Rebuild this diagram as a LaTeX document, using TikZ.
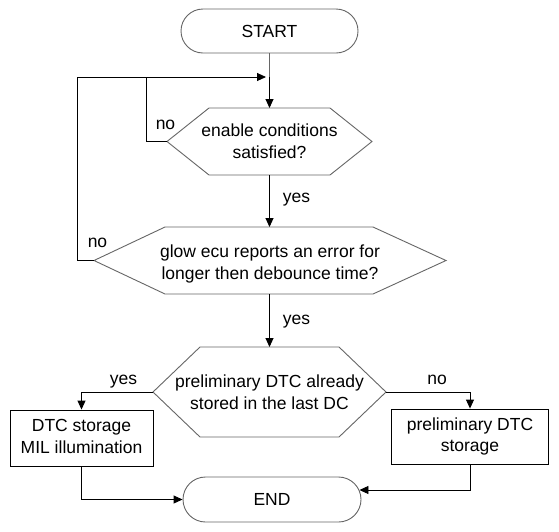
\documentclass[tikz,border=0pt]{standalone}
\usepackage{fontspec}
\setmainfont{Liberation Sans}
\usetikzlibrary{arrows.meta,shapes.misc}
\begin{document}
\begin{tikzpicture}[x=1pt,y=-1pt,
  txt/.style={font=\fontsize{17.5}{21.7}\selectfont, align=center, inner sep=0pt},
  term/.style={rounded rectangle, draw=black!60, line width=0.9pt, txt},
  proc/.style={rectangle, draw=black, line width=0.9pt, txt},
  hexo/.style={draw=black!60, line width=0.9pt},
  lin/.style={draw=black, line width=0.9pt},
  arr/.style={draw=black, line width=0.9pt, -{Triangle[length=9pt,width=8pt]}},
  lbl/.style={font=\fontsize{17.5}{21.7}\selectfont, inner sep=0pt, anchor=base}]
\useasboundingbox[fill=white] (0,0) rectangle (559,531);

% terminals
\node[term, minimum width=177pt, minimum height=44pt] (start) at (269.5,31) {START};
\node[term, minimum width=178pt, minimum height=45pt] (end) at (272,499.5) {END};

% hexagon 1
\coordinate (h1w) at (167,141.5);
\coordinate (h1nw) at (209,108);
\coordinate (h1n) at (269.5,108);
\coordinate (h1ne) at (330,108);
\coordinate (h1e) at (372,141.5);
\coordinate (h1se) at (330,175);
\coordinate (h1s) at (269.5,175);
\coordinate (h1sw) at (209,175);
\draw[hexo] (h1w) -- (h1nw) -- (h1ne) -- (h1e) -- (h1se) -- (h1sw) -- cycle;
\node[txt] (t1) at (269.5,143.5) {\strut enable conditions\\ \strut satisfied?};

% hexagon 2
\coordinate (h2w) at (94,260.5);
\coordinate (h2nw) at (165,227);
\coordinate (h2n) at (269.5,227);
\coordinate (h2ne) at (373,227);
\coordinate (h2e) at (446,260.5);
\coordinate (h2se) at (373,294);
\coordinate (h2s) at (269.5,294);
\coordinate (h2sw) at (165,294);
\draw[hexo] (h2w) -- (h2nw) -- (h2ne) -- (h2e) -- (h2se) -- (h2sw) -- cycle;
\node[txt] (t2) at (270,264) {\strut glow ecu reports an error for\\ \strut longer then debounce time?};

% hexagon 3
\coordinate (h3w) at (153,392);
\coordinate (h3nw) at (200,347);
\coordinate (h3n) at (269.5,347);
\coordinate (h3ne) at (339,347);
\coordinate (h3e) at (386,392);
\coordinate (h3se) at (339,437);
\coordinate (h3sw) at (200,437);
\draw[hexo] (h3w) -- (h3nw) -- (h3ne) -- (h3e) -- (h3se) -- (h3sw) -- cycle;
\node[txt] (t3) at (269.5,394) {\strut preliminary DTC already\\ \strut stored in the last DC};

% process boxes
\node[proc, minimum width=143pt, minimum height=56pt] (b1) at (81.5,438) {\strut DTC storage\\ \strut MIL illumination};
\node[proc, minimum width=157pt, minimum height=55pt] (b2) at (470,436.5) {\strut preliminary DTC\\ \strut storage};

% junction points
\coordinate (j) at (269.5,77);
\coordinate (jl) at (266,77);
\coordinate (k) at (146,77);
\coordinate (o) at (77,77);

% connectors
\draw[line width=0.9pt, draw=black!60] (start.south) -- (j);
\draw[arr] (j) -- (h1n);
\draw[arr] (h2w) -| (o) -- (jl);
\draw[lin] (h1w) -| (k);
\draw[arr] (h1s) -- (h2n);
\draw[arr] (h2s) -- (h3n);
\draw[arr] (h3w) -| (b1.north);
\draw[arr] (h3e) -| (b2.north);
\draw[arr] (b1.south) |- (end.west);
\draw[arr] (b2.south) |- ([xshift=-2pt,yshift=9.5pt]end.east);

% labels
\node[lbl] (l1) at (165.5,129.5) {no};
\node[lbl] (l2) at (97.5,247.5) {no};
\node[lbl] (l3) at (296.5,202.5) {yes};
\node[lbl] (l4) at (296.5,324.5) {yes};
\node[lbl] (l5) at (123.5,384.5) {yes};
\node[lbl] (l6) at (437,384.5) {no};
\end{tikzpicture}
\end{document}
